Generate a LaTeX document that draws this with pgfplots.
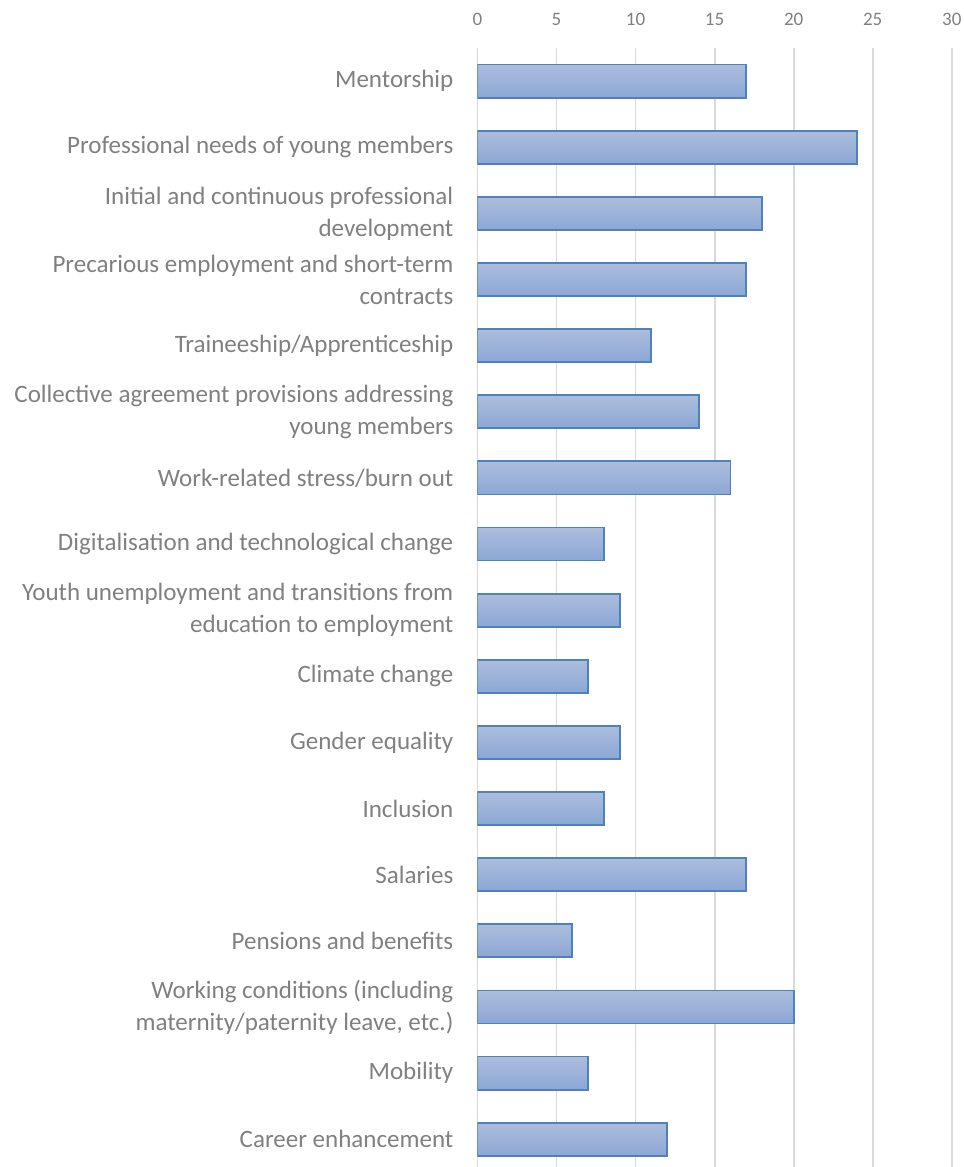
\documentclass[border=0pt]{standalone}
\usepackage{pgfplots}
\pgfplotsset{compat=1.18}
\usepackage{fontspec}
\setmainfont{Carlito}
\definecolor{txtgray}{RGB}{128,128,128}
\definecolor{gridgray}{RGB}{217,217,217}
\definecolor{barline}{RGB}{79,129,189}
\definecolor{bartop}{RGB}{172,189,220}
\definecolor{barbot}{RGB}{140,167,213}
\pgfplotsset{onebar/.style={draw=barline, line width=0.9pt, top color=bartop, bottom color=barbot, bar shift=0pt}}
\begin{document}
\begin{tikzpicture}
\begin{axis}[
	width=237pt,
	height=559pt,
	scale only axis,
	xbar,
	y dir=reverse,
	xmin=0, xmax=30,
	ymin=-0.5, ymax=16.42,
	xtick={0,5,10,15,20,25,30},
	xticklabel pos=right,
	ytick={0,...,16},
	yticklabels={
		Mentorship,
		Professional needs of young members,
		{Initial and continuous professional\\development},
		{Precarious employment and short-term\\contracts},
		Traineeship/Apprenticeship,
		{Collective agreement provisions addressing\\young members},
		Work-related stress/burn out,
		Digitalisation and technological change,
		{Youth unemployment and transitions from\\education to employment},
		Climate change,
		Gender equality,
		Inclusion,
		Salaries,
		Pensions and benefits,
		{Working conditions (including\\maternity/paternity leave, etc.)},
		Mobility,
		Career enhancement},
	yticklabel style={align=right, font=\fontsize{12.5}{16}\selectfont, text=txtgray, xshift=-8.5pt},
	xticklabel style={font=\fontsize{9.5}{11}\selectfont, text=txtgray, yshift=7.5pt},
	/pgf/number format/assume math mode=true,
	major tick length=0pt,
	axis line style={draw=none},
	xmajorgrids,
	grid style={gridgray, line width=0.9pt},
	bar width=16.5pt,
]
% one plot per bar so that each bar gets its own gradient
\addplot[onebar] coordinates {(17,0)};
\addplot[onebar] coordinates {(24,1)};
\addplot[onebar] coordinates {(18,2)};
\addplot[onebar] coordinates {(17,3)};
\addplot[onebar] coordinates {(11,4)};
\addplot[onebar] coordinates {(14,5)};
\addplot[onebar] coordinates {(16,6)};
\addplot[onebar] coordinates {(8,7)};
\addplot[onebar] coordinates {(9,8)};
\addplot[onebar] coordinates {(7,9)};
\addplot[onebar] coordinates {(9,10)};
\addplot[onebar] coordinates {(8,11)};
\addplot[onebar] coordinates {(17,12)};
\addplot[onebar] coordinates {(6,13)};
\addplot[onebar] coordinates {(20,14)};
\addplot[onebar] coordinates {(7,15)};
\addplot[onebar] coordinates {(12,16)};
\end{axis}
\pgfresetboundingbox
\path ([xshift=-238.5pt,yshift=24pt]current axis.north west) rectangle ([xshift=6pt]current axis.south east);
\end{tikzpicture}
\end{document}
